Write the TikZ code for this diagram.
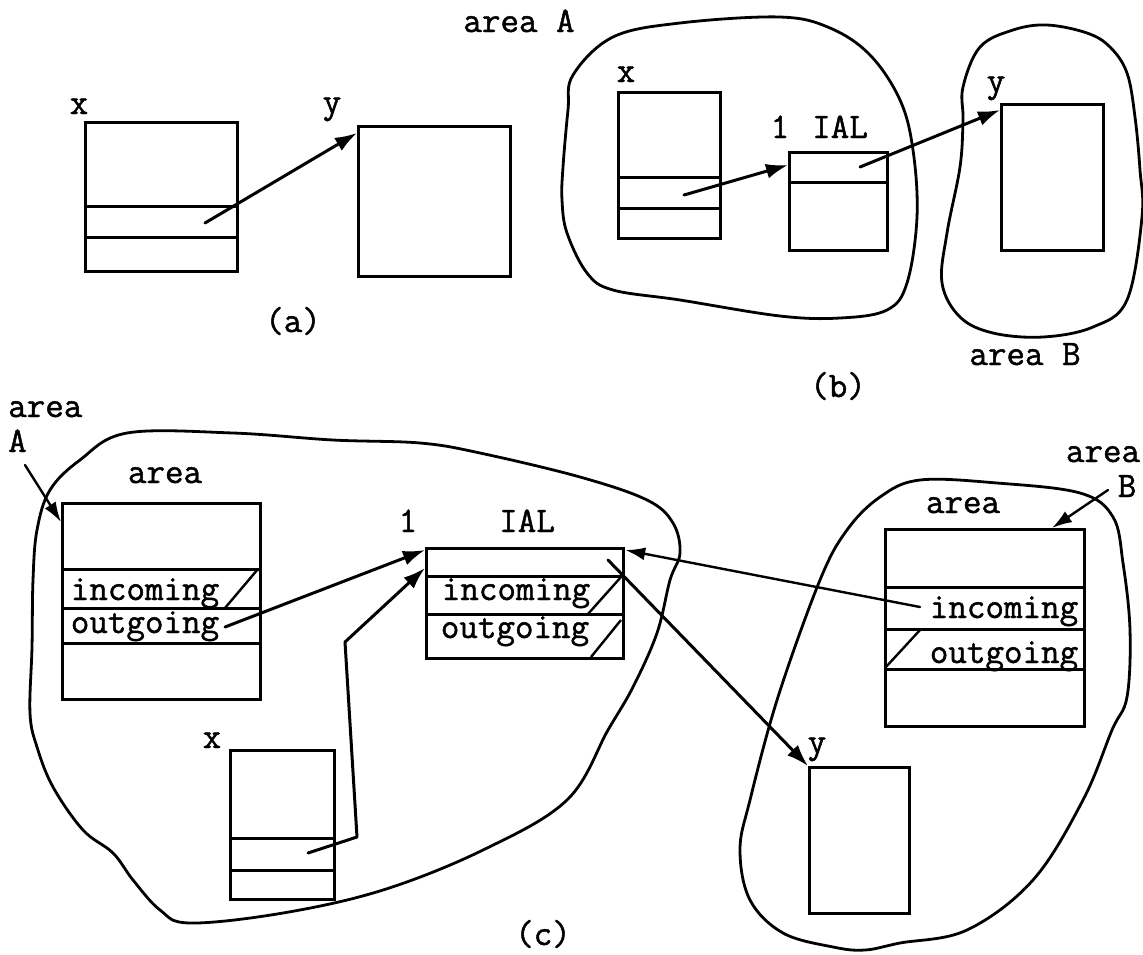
\documentclass[tikz,border=0pt]{standalone}
\usepackage{fontspec}
\newfontfamily\twfont{Latin Modern Mono}[FakeBold=1.3]
\usetikzlibrary{arrows.meta,calc}
\begin{document}
\begin{tikzpicture}[x=1pt,y=-1pt,
  rec/.style={draw, rectangle, inner sep=0pt, anchor=north west, line width=3.2pt},
  divl/.style={line width=3pt},
  sl/.style={line width=2.4pt},
  lbl/.style={inner sep=0pt, anchor=base, font=\fontsize{36}{40}\selectfont\twfont},
  blob/.style={line width=2.8pt, smooth cycle, tension=0.6},
  arr/.style={line width=3pt, line cap=round, -{Latex[length=22pt,width=15pt]}},
  thinarr/.style={line width=2.4pt, line cap=round, -{Latex[length=20pt,width=13pt]}}]
\useasboundingbox (0,0) rectangle (1143,954);

% ---------------- (a) ----------------
\node[rec, minimum width=152pt, minimum height=149pt] (ax) at (84,121) {};
\draw[divl] (ax.west |- 0,206) -- (ax.east |- 0,206);
\draw[divl] (ax.west |- 0,237) -- (ax.east |- 0,237);
\node[rec, minimum width=152pt, minimum height=150pt] (ay) at (357,125) {};
\node[lbl] (axl) at (79,114) {x};
\node[lbl] (ayl) at (332,113) {y};
\coordinate (a1) at (205,223);
\coordinate (a2) at ($(ay.north west)+(0,8)$);
\draw[arr] (a1) -- (a2);
\node[lbl] (alab) at (293,332) {(a)};

% ---------------- (b) ----------------
\draw[blob] plot coordinates {(573,75) (613,37) (680,23) (780,17) (830,28) (870,55) (900,100) (913,150) (917,217) (907,283) (887,310) (840,318) (780,316) (680,300) (613,290) (587,273) (567,233) (562,200) (563,167) (568,110)};
\draw[blob] plot coordinates {(963,87) (980,47) (1013,30) (1047,25) (1087,33) (1110,47) (1127,73) (1135,117) (1140,170) (1142,217) (1127,300) (1093,327) (1043,337) (993,333) (960,317) (942,283) (947,233) (960,167) (963,120)};
\node[rec, minimum width=102pt, minimum height=146pt] (bx) at (617,91) {};
\draw[divl] (bx.west |- 0,177) -- (bx.east |- 0,177);
\draw[divl] (bx.west |- 0,208) -- (bx.east |- 0,208);
\node[rec, minimum width=98pt, minimum height=98pt] (bial) at (788,151) {};
\draw[divl] (bial.west |- 0,182) -- (bial.east |- 0,182);
\node[rec, minimum width=102pt, minimum height=146pt] (by) at (1000,103) {};
\node[lbl] (bxl) at (626,82) {x};
\node[lbl] (byl) at (996,92) {y};
\node[lbl] (bonel) at (780,138) {1};
\node[lbl] (bial_l) at (840,138) {IAL};
\node[lbl] (bareaA) at (519,32) {area A};
\node[lbl] (bareaB) at (1025,365) {area B};
\node[lbl] (blab) at (838,397) {(b)};
\coordinate (b1) at (684,195);
\coordinate (b2) at (860,167);
\draw[arr] (b1) -- (bial.west |- 0,165);
\draw[arr] (b2) -- (by.west |- 0,110);

% ---------------- (c) ----------------
\draw[blob] plot coordinates {(80,460) (127,433) (233,433) (333,440) (420,443) (480,453) (580,477) (647,500) (673,523) (680,553) (670,580) (657,633) (633,687) (608,730) (567,800) (483,850) (383,890) (283,913) (190,923) (160,910) (133,880) (113,853) (83,830) (53,787) (37,747) (30,713) (32,647) (33,580) (37,530) (50,490)};
\draw[blob] plot coordinates {(920,480) (997,483) (1080,493) (1113,517) (1123,563) (1130,630) (1127,697) (1112,730) (1083,800) (1033,880) (967,930) (900,943) (865,950) (833,947) (783,933) (750,900) (740,850) (750,800) (778,697) (820,580) (847,530) (880,497)};

% left area box
\node[rec, minimum width=198pt, minimum height=196pt] (carea) at (61,502) {};
\draw[divl] (carea.west |- 0,569) -- (carea.east |- 0,569);
\draw[divl] (carea.west |- 0,608) -- (carea.east |- 0,608);
\draw[divl] (carea.west |- 0,643) -- (carea.east |- 0,643);
\draw[sl] (225,608) -- (258,569);
\node[lbl] (cain) at (145,600) {incoming};
\node[lbl] (caout) at (145,633) {outgoing};
\node[lbl] (carl) at (165,483) {area};
\node[lbl, anchor=base west] (cAl1) at (8,417) {area};
\node[lbl, anchor=base west] (cAl2) at (8,452) {A};

% IAL box
\node[rec, minimum width=197pt, minimum height=110pt] (cial) at (425,547) {};
\draw[divl] (cial.west |- 0,576) -- (cial.east |- 0,576);
\draw[divl] (cial.west |- 0,614) -- (cial.east |- 0,614);
\draw[sl] (588,614) -- (621,577);
\draw[sl] (591,657) -- (621,620);
\node[lbl] (ciin) at (516,600) {incoming};
\node[lbl] (ciout) at (515,638) {outgoing};
\node[lbl] (cone) at (408,532) {1};
\node[lbl] (cialt) at (527,532) {IAL};

% x box
\node[rec, minimum width=104pt, minimum height=149pt] (cx) at (229,749) {};
\draw[divl] (cx.west |- 0,838) -- (cx.east |- 0,838);
\draw[divl] (cx.west |- 0,870) -- (cx.east |- 0,870);
\node[lbl] (cxl) at (212,748) {x};

% right area box
\node[rec, minimum width=199pt, minimum height=197pt] (cb) at (884,528) {};
\draw[divl] (cb.west |- 0,587) -- (cb.east |- 0,587);
\draw[divl] (cb.west |- 0,629) -- (cb.east |- 0,629);
\draw[divl] (cb.west |- 0,669) -- (cb.east |- 0,669);
\draw[sl] (885,668) -- (920,630);
\node[lbl] (cbin) at (1004,618) {incoming};
\node[lbl] (cbout) at (1004,663) {outgoing};
\node[lbl] (cbrl) at (963,513) {area};
\node[lbl] (cBl1) at (1103,462) {area};
\node[lbl] (cBl2) at (1127,497) {B};

% y box
\node[rec, minimum width=100pt, minimum height=146pt] (cy) at (808,766) {};
\node[lbl] (cyl) at (817,753) {y};
\node[lbl] (clab) at (543,945) {(c)};

% connectors
\coordinate (c1) at (225,627);
\draw[arr] (c1) -- (cial.west |- 0,550);
\coordinate (cx1) at (308,853);
\coordinate (cx2) at (357,837);
\coordinate (cx3) at (345,642);
\draw[arr, line join=round] (cx1) -- (cx2) -- (cx3) -- (cial.west |- 0,568);
\coordinate (cb1) at (920,607);
\draw[thinarr] (cb1) -- (cial.east |- 0,550);
\coordinate (ci1) at (608,560);
\draw[arr] (ci1) -- (cy.north west);
\coordinate (cA) at (25,465);
\draw[thinarr] (cA) -- (carea.west |- 0,522);
\coordinate (cB) at (1108,490);
\coordinate (cB2) at (1052,528);
\draw[thinarr] (cB) -- (cB2);
\end{tikzpicture}
\end{document}
